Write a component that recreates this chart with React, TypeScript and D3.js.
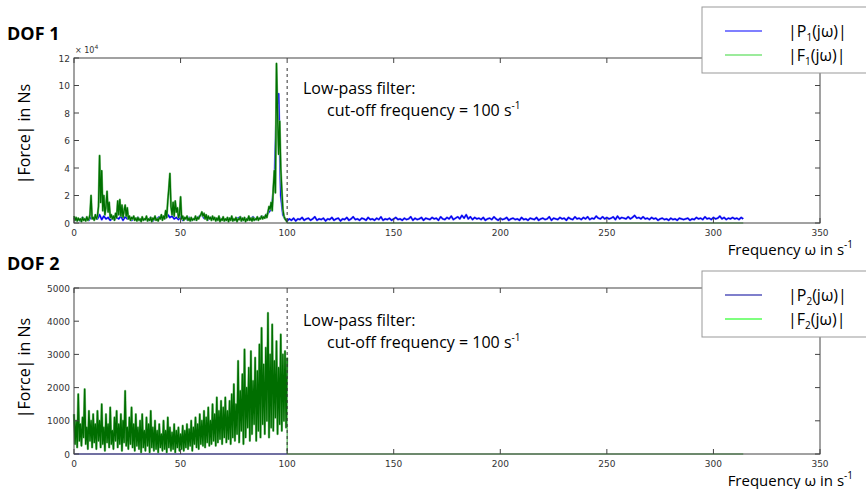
import React from "react";
import * as d3 from "d3";

// frequency axis, both panels
const xTicks = [0, 50, 100, 150, 200, 250, 300, 350];
const cutoff = 100;
const lastFreq = 314;

// DOF 1, |Force| in 1e4 Ns
const dof1Ticks = [0, 2, 4, 6, 8, 10, 12];
// green |F1| sampled every 0.5 s^-1 from 0 to 100
const dof1Green = [
  0.5, 0.2, 0.4, 0.15, 0.35, 0.2, 0.3, 0.1, 0.4, 0.2, 0.3, 0.15, 0.45, 0.2, 0.3, 0.6,
  2.0, 0.3, 0.4, 0.2, 0.6, 0.3, 0.5, 1.2, 4.9, 1.5, 3.8, 0.9, 2.0, 0.6, 1.2, 2.3,
  0.8, 1.5, 0.4, 0.6, 0.3, 0.5, 0.2, 0.7, 0.4, 1.6, 0.6, 1.7, 0.5, 1.3, 0.4, 0.9,
  1.3, 0.5, 1.1, 0.3, 0.5, 0.2, 0.4, 0.3, 0.5, 0.2, 0.35, 0.15, 0.4, 0.2, 0.3, 0.1,
  0.45, 0.2, 0.3, 0.25, 0.5, 0.15, 0.3, 0.2, 0.4, 0.1, 0.35, 0.25, 0.5, 0.2, 0.3, 0.15,
  0.4, 0.3, 0.6, 0.2, 0.5, 0.3, 0.9, 0.4, 1.6, 2.5, 3.6, 1.2, 0.6, 1.5, 0.5, 1.6,
  0.8, 1.1, 0.4, 0.6, 1.9, 0.3, 0.5, 0.2, 0.4, 0.3, 0.5, 0.2, 0.35, 0.15, 0.4, 0.2,
  0.3, 0.25, 0.5, 0.2, 0.4, 0.3, 0.5, 0.6, 0.8, 0.5, 0.7, 0.3, 0.6, 0.2, 0.5, 0.3,
  0.4, 0.2, 0.5, 0.25, 0.4, 0.15, 0.35, 0.2, 0.5, 0.1, 0.3, 0.2, 0.45, 0.15, 0.3, 0.2,
  0.4, 0.1, 0.35, 0.2, 0.5, 0.15, 0.3, 0.2, 0.4, 0.1, 0.3, 0.25, 0.45, 0.15, 0.35, 0.2,
  0.4, 0.1, 0.3, 0.2, 0.5, 0.2, 0.35, 0.15, 0.4, 0.2, 0.3, 0.25, 0.45, 0.2, 0.35, 0.3,
  0.5, 0.3, 0.45, 0.35, 0.6, 0.4, 0.8, 1.2, 1.0, 1.5, 0.9, 2.5, 3.8, 2.2, 11.6, 8.0,
  5.0, 7.4, 4.0, 2.4, 1.0, 0.5, 0.3, 0.2, 0.05,
];
// blue |P1| sampled every 1 s^-1 from 0 to 314
const dof1Blue = [
  0.35, 0.2, 0.3, 0.15, 0.4, 0.25, 0.3, 0.2, 0.45, 0.3,
  0.4, 0.3, 0.6, 0.25, 0.5, 0.3, 0.4, 0.2, 0.35, 0.25,
  0.4, 0.3, 0.5, 0.2, 0.45, 0.3, 0.35, 0.2, 0.3, 0.25,
  0.4, 0.2, 0.35, 0.25, 0.3, 0.2, 0.4, 0.15, 0.35, 0.3,
  0.45, 0.3, 0.5, 0.35, 0.6, 0.4, 0.5, 0.3, 0.4, 0.25,
  0.45, 0.2, 0.35, 0.25, 0.4, 0.2, 0.3, 0.25, 0.4, 0.5,
  0.6, 0.35, 0.45, 0.25, 0.4, 0.3, 0.35, 0.2, 0.4, 0.25,
  0.3, 0.2, 0.35, 0.25, 0.4, 0.2, 0.3, 0.35, 0.45, 0.2,
  0.35, 0.25, 0.4, 0.3, 0.45, 0.25, 0.35, 0.3, 0.5, 0.4,
  0.55, 0.7, 0.9, 1.5, 3.0, 8.1, 9.4, 2.0, 0.6, 0.3,
  0.15, 0.3, 0.2, 0.35, 0.15, 0.3, 0.25, 0.4, 0.2, 0.3,
  0.35, 0.2, 0.3, 0.45, 0.2, 0.3, 0.25, 0.35, 0.15, 0.3,
  0.25, 0.4, 0.2, 0.3, 0.35, 0.15, 0.3, 0.25, 0.4, 0.2,
  0.3, 0.45, 0.25, 0.3, 0.2, 0.35, 0.3, 0.2, 0.4, 0.25,
  0.3, 0.2, 0.35, 0.25, 0.45, 0.2, 0.3, 0.25, 0.35, 0.2,
  0.3, 0.4, 0.25, 0.3, 0.2, 0.35, 0.25, 0.3, 0.45, 0.2,
  0.35, 0.25, 0.3, 0.4, 0.2, 0.35, 0.3, 0.25, 0.4, 0.3,
  0.35, 0.2, 0.45, 0.3, 0.25, 0.4, 0.3, 0.5, 0.25, 0.35,
  0.45, 0.3, 0.55, 0.35, 0.6, 0.3, 0.45, 0.25, 0.4, 0.3,
  0.35, 0.25, 0.4, 0.2, 0.3, 0.35, 0.25, 0.45, 0.3, 0.2,
  0.35, 0.25, 0.3, 0.4, 0.2, 0.3, 0.35, 0.25, 0.3, 0.2,
  0.4, 0.25, 0.3, 0.2, 0.35, 0.3, 0.25, 0.4, 0.2, 0.3,
  0.35, 0.25, 0.3, 0.45, 0.2, 0.35, 0.3, 0.25, 0.4, 0.3,
  0.35, 0.2, 0.4, 0.3, 0.25, 0.45, 0.3, 0.35, 0.25, 0.4,
  0.3, 0.45, 0.25, 0.35, 0.3, 0.5, 0.35, 0.3, 0.45, 0.3,
  0.4, 0.3, 0.35, 0.45, 0.25, 0.5, 0.3, 0.4, 0.35, 0.3,
  0.45, 0.3, 0.4, 0.55, 0.35, 0.4, 0.3, 0.45, 0.3, 0.35,
  0.25, 0.4, 0.3, 0.35, 0.2, 0.3, 0.35, 0.25, 0.3, 0.2,
  0.35, 0.25, 0.3, 0.2, 0.35, 0.3, 0.25, 0.3, 0.35, 0.2,
  0.3, 0.25, 0.4, 0.3, 0.35, 0.25, 0.45, 0.3, 0.35, 0.25,
  0.4, 0.3, 0.35, 0.5, 0.3, 0.4, 0.25, 0.35, 0.3, 0.4,
  0.3, 0.35, 0.25, 0.4, 0.3,
];

// DOF 2, |Force| in Ns
const dof2Ticks = [0, 1000, 2000, 3000, 4000, 5000];
// green |F2| sampled every 0.5 s^-1 from 0 to 100
const dof2Green = [
  1200, 300, 1000, 200, 1800, 400, 900, 250, 1100, 500, 1950, 300, 800, 150, 1300, 400,
  1000, 200, 1200, 350, 900, 150, 1300, 400, 1000, 200, 1500, 300, 800, 100, 1200, 350,
  900, 200, 1400, 300, 700, 150, 1100, 400, 1300, 200, 900, 300, 1200, 100, 1000, 350,
  1900, 250, 800, 150, 1100, 300, 1400, 200, 900, 100, 1200, 250, 800, 150, 1000, 50,
  1200, 200, 700, 100, 1100, 250, 900, 50, 1300, 200, 800, 100, 1000, 150, 700, 50,
  900, 200, 600, 100, 1000, 150, 700, 50, 1100, 200, 800, 100, 650, 150, 900, 50,
  700, 200, 800, 100, 600, 150, 850, 100, 700, 200, 900, 150, 750, 250, 1000, 100,
  800, 300, 1100, 200, 900, 150, 1200, 300, 1000, 250, 1300, 200, 1100, 350, 1400, 250,
  1000, 300, 1500, 400, 1200, 250, 1700, 350, 1300, 450, 1600, 300, 1400, 500, 1700, 350,
  1300, 450, 1600, 300, 1800, 500, 2100, 400, 1500, 600, 2800, 350, 1900, 700, 2400, 300,
  3150, 500, 2000, 800, 2600, 400, 3100, 600, 2200, 900, 2900, 400, 2500, 700, 3300, 500,
  3800, 900, 2700, 600, 3200, 1000, 4250, 500, 3000, 800, 3900, 700, 2800, 1100, 3400, 600,
  2600, 900, 3600, 700, 3000, 1000, 3100, 800, 2900,
];
const dof2GreenTailFreq = [100, 100, 314];
const dof2GreenTailVal = [2900, 0, 0];
const dof2BlueFreq = [0, 100];
const dof2BlueVal = [0, 0];

const x = d3.scaleLinear().domain([0, 350]).range([74, 820]);

const font = "'Open Sans', 'Noto Sans', sans-serif";
const tickFont = "'DejaVu Sans', sans-serif";

type Pt = [number, number];

const stepPts = (vals: number[], step: number): Pt[] => vals.map((v, i) => [i * step, v]);
const pairPts = (fs: number[], vs: number[]): Pt[] => fs.map((f, i) => [f, vs[i]]);

const Sub = ({ main, sub }: { main: string; sub: string }) => (
  <>
    {"|" + main}
    <tspan fontSize={10} dy={4}>{sub}</tspan>
    <tspan dy={-4}>(jω)|</tspan>
  </>
);

const Panel = (props: any) => {
  const { top, bottom, domain, ticks, series, legend, title, exp, ylabelY, legendY, annoY } = props;
  const y = d3.scaleLinear().domain(domain).range([bottom, top]);
  const line = d3.line<Pt>().x((d) => x(d[0])).y((d) => y(d[1]));
  const left = x(0);
  const right = x(350);
  const axisCol = "#444";
  return (
    <g>
      <text x={7} y={top - 18} fontFamily={font} fontWeight="bold" fontSize={18}>{title}</text>
      <text transform={`translate(30,${ylabelY}) rotate(-90)`} textAnchor="middle" fontFamily={font} fontSize={16}>|Force| in Ns</text>
      {series.map((s: any, i: number) => (
        <path key={i} d={line(s.pts) || ""} fill="none" stroke={s.color} strokeWidth={s.width} strokeLinejoin="round" />
      ))}
      <line x1={x(cutoff)} x2={x(cutoff)} y1={top + 10} y2={bottom} stroke="#333" strokeDasharray="3,3" />
      <rect x={left} y={top} width={right - left} height={bottom - top} fill="none" stroke={axisCol} />
      {xTicks.map((t) => (
        <g key={"x" + t}>
          <line x1={x(t)} x2={x(t)} y1={bottom} y2={bottom - 5} stroke={axisCol} />
          <line x1={x(t)} x2={x(t)} y1={top} y2={top + 5} stroke={axisCol} />
          <text x={x(t)} y={bottom + 13} textAnchor="middle" fontFamily={tickFont} fontSize={9} fill="#333">{t}</text>
        </g>
      ))}
      {ticks.map((t: number) => (
        <g key={"y" + t}>
          <line x1={left} x2={left + 5} y1={y(t)} y2={y(t)} stroke={axisCol} />
          <line x1={right} x2={right - 5} y1={y(t)} y2={y(t)} stroke={axisCol} />
          <text x={left - 4} y={y(t) + 3.5} textAnchor="end" fontFamily={tickFont} fontSize={9} fill="#333">{t}</text>
        </g>
      ))}
      {exp && (
        <text x={left + 1} y={top - 5} fontFamily={tickFont} fontSize={8} fill="#333">
          × 10<tspan fontSize={6} dy={-4}>4</tspan>
        </text>
      )}
      <text x={853} y={bottom + 32} textAnchor="end" fontFamily={font} fontSize={15}>
        Frequency ω in s<tspan fontSize={10} dy={-7}>-1</tspan>
      </text>
      <text x={303} y={annoY} fontFamily={font} fontSize={16}>Low-pass filter:</text>
      <text x={327} y={annoY + 22} fontFamily={font} fontSize={16}>
        cut-off frequency = 100 s<tspan fontSize={10} dy={-7}>-1</tspan>
      </text>
      <rect x={702} y={legendY} width={180} height={66} fill="#fff" stroke="#999" />
      {legend.map((l: any, i: number) => (
        <g key={"l" + i}>
          <line x1={725} x2={762} y1={legendY + 24 + i * 24} y2={legendY + 24 + i * 24} stroke={l.color} strokeWidth={1.2} />
          <text x={788} y={legendY + 30 + i * 24} fontFamily={font} fontSize={16}>
            <Sub main={l.main} sub={l.sub} />
          </text>
        </g>
      ))}
    </g>
  );
};

export default function App() {
  const g1 = stepPts(dof1Green, 0.5);
  const b1 = stepPts(dof1Blue, 1);
  const g2 = stepPts(dof2Green, 0.5);
  const dof1Series = [
    { pts: pairPts([cutoff, lastFreq], [0, 0]), color: "#2ea02e", width: 1 },
    { pts: b1, color: "#8c8cff", width: 2.2 },
    { pts: b1, color: "#0000ee", width: 1.3 },
    { pts: g1, color: "#7fbf7f", width: 2.2 },
    { pts: g1, color: "#007000", width: 1.3 },
  ];
  const dof2Series = [
    { pts: pairPts(dof2GreenTailFreq, dof2GreenTailVal), color: "#2ea02e", width: 1 },
    { pts: g2, color: "#8cc88c", width: 2.4 },
    { pts: g2, color: "#006e00", width: 1.4 },
    { pts: pairPts(dof2BlueFreq, dof2BlueVal), color: "#3a3aff", width: 1 },
  ];
  return (
    <svg width={866} height={489} style={{ position: "absolute", left: 0, top: 0, background: "#fff" }}>
      <Panel
        top={58} bottom={223} domain={[0, 12]} ticks={dof1Ticks} series={dof1Series}
        title="DOF 1" exp ylabelY={134} legendY={7} annoY={94}
        legend={[{ main: "P", sub: "1", color: "#0000ff" }, { main: "F", sub: "1", color: "#3ad83a" }]}
      />
      <Panel
        top={288} bottom={454} domain={[0, 5000]} ticks={dof2Ticks} series={dof2Series}
        title="DOF 2" exp={false} ylabelY={368} legendY={271} annoY={326}
        legend={[{ main: "P", sub: "2", color: "#000099" }, { main: "F", sub: "2", color: "#00ff00" }]}
      />
    </svg>
  );
}
